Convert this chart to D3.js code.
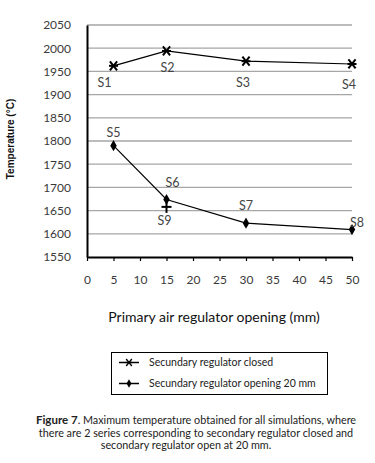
<!DOCTYPE html>
<html>
<head>
<meta charset="utf-8">
<script src="https://cdn.jsdelivr.net/npm/d3@7"></script>
<style>
  body { margin: 0; background: #fff; }
  svg { display: block; }
</style>
</head>
<body>
<div id="chart"></div>
<script>
// data
var openings = [5, 15, 30, 50];
var closedTemps = [1962, 1994, 1972, 1966];
var closedLabels = ["S1", "S2", "S3", "S4"];
var open20Temps = [1790, 1674, 1623, 1609];
var open20Labels = ["S5", "S6", "S7", "S8"];
var extraPoint = { x: 15, t: 1658, label: "S9" };
var xTicks = [0, 5, 10, 15, 20, 25, 30, 35, 40, 45, 50];
var yTicks = [1550, 1600, 1650, 1700, 1750, 1800, 1850, 1900, 1950, 2000, 2050];
var legendNames = ["Secundary regulator closed", "Secundary regulator opening 20 mm"];
var captionLines = [
    "Maximum temperature obtained for all simulations, where",
    "there are 2 series corresponding to secondary regulator closed and",
    "secondary regulator open at 20 mm."
];

var w = 375, h = 463;
var svg = d3.select("#chart").append("svg")
    .attr("width", w)
    .attr("height", h);

var xScale = d3.scaleLinear().domain([0, 50]).range([87, 352]);
var yScale = d3.scaleLinear().domain([1550, 2050]).range([257, 25]);

var tickFont = "Lato, 'DejaVu Sans', sans-serif";

// gridlines
svg.append("g")
    .selectAll("line")
    .data(yTicks.slice(1))
    .enter()
    .append("line")
    .attr("x1", xScale(0))
    .attr("x2", xScale(50))
    .attr("y1", function(d) { return yScale(d); })
    .attr("y2", function(d) { return yScale(d); })
    .attr("stroke", "#a6a6a6")
    .attr("stroke-width", 1.3);

// y axis
var yAxis = d3.axisLeft(yScale).tickValues(yTicks).tickFormat(d3.format("d")).tickSize(0).tickPadding(16);
var gy = svg.append("g")
    .attr("transform", "translate(" + xScale(0) + ",0)")
    .call(yAxis);
gy.select(".domain").attr("stroke", "#000").attr("stroke-width", 2);
gy.selectAll("text")
    .attr("font-family", tickFont)
    .attr("font-size", 12)
    .attr("fill", "#3a3a3a");

// x axis
var xAxis = d3.axisBottom(xScale).tickValues(xTicks).tickSize(4).tickPadding(14).tickSizeOuter(0);
var gx = svg.append("g")
    .attr("transform", "translate(0," + yScale(1550) + ")")
    .call(xAxis);
gx.select(".domain").attr("stroke", "#000").attr("stroke-width", 2);
gx.selectAll("line").attr("stroke", "#000").attr("stroke-width", 1.2);
gx.selectAll("text")
    .attr("font-family", tickFont)
    .attr("font-size", 12)
    .attr("fill", "#3a3a3a");

// axis titles
svg.append("text")
    .attr("x", 214)
    .attr("y", 322)
    .attr("text-anchor", "middle")
    .attr("font-family", tickFont)
    .attr("font-size", 14)
    .attr("fill", "#111")
    .text("Primary air regulator opening (mm)");

svg.append("text")
    .attr("transform", "translate(14,139) rotate(-90)")
    .attr("text-anchor", "middle")
    .attr("font-family", "'Liberation Sans', Arial, sans-serif")
    .attr("font-weight", "bold")
    .attr("font-size", 10)
    .attr("fill", "#111")
    .text("Temperature (\u00B0C)");

var line = d3.line()
    .x(function(d) { return xScale(d[0]); })
    .y(function(d) { return yScale(d[1]); });

var closedPts = openings.map(function(x, i) { return [x, closedTemps[i]]; });
var openPts = openings.map(function(x, i) { return [x, open20Temps[i]]; });

svg.append("path").datum(closedPts).attr("d", line)
    .attr("fill", "none").attr("stroke", "#000").attr("stroke-width", 1.2);
svg.append("path").datum(openPts).attr("d", line)
    .attr("fill", "none").attr("stroke", "#000").attr("stroke-width", 1.2);

// asterisk marker: horizontal bar plus two diagonals
function drawStar(g, x, y, r, sw) {
    var a = g.append("g").attr("transform", "translate(" + x + "," + y + ")")
        .attr("stroke", "#000").attr("stroke-width", sw);
    a.append("line").attr("x1", -r).attr("x2", r).attr("y1", 0).attr("y2", 0);
    a.append("line").attr("x1", -r * 0.8).attr("x2", r * 0.8).attr("y1", -r).attr("y2", r);
    a.append("line").attr("x1", -r * 0.8).attr("x2", r * 0.8).attr("y1", r).attr("y2", -r);
}

closedPts.forEach(function(p) { drawStar(svg, xScale(p[0]), yScale(p[1]), 4.5, 2); });

var diamond = d3.symbol().type(d3.symbolDiamond).size(36);
openPts.forEach(function(p) {
    svg.append("path").attr("d", diamond())
        .attr("transform", "translate(" + xScale(p[0]) + "," + yScale(p[1]) + ")")
        .attr("fill", "#000");
});

// S9 plus marker
var px = xScale(extraPoint.x), py = yScale(extraPoint.t);
svg.append("line")
    .attr("x1", px - 5).attr("x2", px + 5)
    .attr("y1", py).attr("y2", py)
    .attr("stroke", "#000").attr("stroke-width", 2);
svg.append("line")
    .attr("x1", px).attr("x2", px)
    .attr("y1", py - 4).attr("y2", py + 6)
    .attr("stroke", "#000").attr("stroke-width", 2);

// point labels (offsets in px from each marker)
var labelOffsets = {
    S1: [-9, 21], S2: [1, 21], S3: [-3, 26], S4: [-3, 25],
    S5: [0, -9], S6: [6, -12], S7: [0, -13], S8: [5, -3], S9: [-2, 18]
};
var labelData = closedPts.map(function(p, i) { return { p: p, s: closedLabels[i] }; })
    .concat(openPts.map(function(p, i) { return { p: p, s: open20Labels[i] }; }))
    .concat([{ p: [extraPoint.x, extraPoint.t], s: extraPoint.label }]);

svg.append("g").selectAll("text")
    .data(labelData)
    .enter()
    .append("text")
    .attr("x", function(d) { return xScale(d.p[0]) + labelOffsets[d.s][0]; })
    .attr("y", function(d) { return yScale(d.p[1]) + labelOffsets[d.s][1]; })
    .attr("text-anchor", "middle")
    .attr("font-family", tickFont)
    .attr("font-size", 12.5)
    .attr("fill", "#444")
    .text(function(d) { return d.s; });

// legend
var lg = svg.append("g");
lg.append("rect")
    .attr("x", 111.5).attr("y", 352.5).attr("width", 216).attr("height", 42)
    .attr("fill", "#fff").attr("stroke", "#000").attr("stroke-width", 1);
legendNames.forEach(function(name, i) {
    var y = 362.5 + i * 21;
    lg.append("line").attr("x1", 119).attr("x2", 139).attr("y1", y).attr("y2", y)
        .attr("stroke", "#000").attr("stroke-width", 1.5);
    if (i === 0) {
        drawStar(lg, 129, y, 3.5, 1.3);
    } else {
        lg.append("path").attr("d", d3.symbol().type(d3.symbolDiamond).size(20)())
            .attr("transform", "translate(129," + y + ")")
            .attr("fill", "#000");
    }
    lg.append("text")
        .attr("x", 149).attr("y", y + 3.5)
        .attr("font-family", tickFont)
        .attr("font-size", 10.5)
        .attr("fill", "#222")
        .text(name);
});

// caption
var cap = svg.append("g")
    .attr("font-family", tickFont)
    .attr("font-size", 10.8)
    .attr("fill", "#222");
var first = cap.append("text").attr("x", 196).attr("y", 424).attr("text-anchor", "middle");
first.append("tspan").attr("font-weight", "bold").attr("font-size", 11.5).text("Figure 7");
first.append("tspan").text(". " + captionLines[0]);
cap.append("text").attr("x", 196).attr("y", 436.5).attr("text-anchor", "middle").text(captionLines[1]);
cap.append("text").attr("x", 186).attr("y", 449).attr("text-anchor", "middle").text(captionLines[2]);
</script>
</body>
</html>
